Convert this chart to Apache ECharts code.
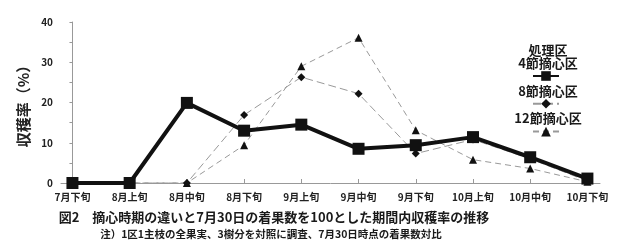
<!DOCTYPE html>
<html><head><meta charset="utf-8">
<script src="https://cdn.jsdelivr.net/npm/echarts@6/dist/echarts.min.js"></script>
<style>html,body{margin:0;padding:0;background:#fff}#c{width:626px;height:252px}</style>
</head><body><div id="c"></div>
<script>
const categories = ['7月下旬','8月上旬','8月中旬','8月下旬','9月上旬','9月中旬','9月下旬','10月上旬','10月中旬','10月下旬'];
const node4 = [0, 0, 19.9, 13.0, 14.5, 8.5, 9.4, 11.4, 6.4, 1.1];
const node8 = [0, 0, 0, 16.9, 26.3, 22.2, 7.3, 10.8, 6.0, 0.5];
const node12 = [0, 0, 0, 9.4, 29.0, 36.1, 13.1, 5.8, 3.6, 0.3];
const yTicks = [0, 10, 20, 30, 40];
const seriesNames = ['4節摘心区', '8節摘心区', '12節摘心区'];
const legendTitle = '処理区';
const yName = '収穫率（%）';
const titleText = '図2　摘心時期の違いと7月30日の着果数を100とした期間内収穫率の推移';
const noteText = '注）1区1主枝の全果実、3樹分を対照に調査、7月30日時点の着果数対比';

const FONT = '"Noto Sans CJK JP", "Noto Sans", sans-serif';
const idx = categories.map((_, i) => i);
const pairs = arr => arr.map((v, i) => [i, v]);
const txt = (x, y, text, size) => ({type: 'text', x: x, y: y,
  style: {text: text, align: 'center', verticalAlign: 'middle', font: 'bold ' + size + 'px ' + FONT, fill: '#1a1a1a'}});

const chart = echarts.init(document.getElementById('c'), null, {renderer: 'canvas'});
chart.setOption({
  animation: false,
  backgroundColor: '#fff',
  grid: {left: 61, right: 26, top: 22, bottom: 69, containLabel: false},
  xAxis: {
    type: 'value', min: -0.2, max: 9.22,
    axisLine: {show: true, lineStyle: {color: '#999', width: 1}},
    axisTick: {show: true, inside: true, length: 4, lineStyle: {color: '#999'}, customValues: idx},
    axisLabel: {customValues: idx, formatter: v => categories[Math.round(v)] || '',
      color: '#222', fontFamily: FONT, fontWeight: 'bold', fontSize: 10, margin: 9},
    splitLine: {show: false}
  },
  yAxis: {
    type: 'value', min: yTicks[0], max: yTicks[yTicks.length - 1], interval: 10,
    name: yName, nameLocation: 'middle', nameGap: 26, nameRotate: 90,
    nameTextStyle: {fontFamily: FONT, fontWeight: 'bold', fontSize: 15, color: '#222'},
    axisLine: {show: true, lineStyle: {color: '#999', width: 1}},
    axisTick: {show: true, length: 3, lineStyle: {color: '#999'}},
    minorTick: {show: true, splitNumber: 2, length: 3, lineStyle: {color: '#999'}},
    axisLabel: {color: '#222', fontFamily: FONT, fontWeight: 'bold', fontSize: 10, margin: 8},
    splitLine: {show: false}
  },
  legend: {
    orient: 'vertical', left: 527, top: 65, itemWidth: 26, itemHeight: 12, itemGap: 17,
    data: seriesNames, formatter: () => '', selectedMode: false,
    textStyle: {fontSize: 1}
  },
  graphic: [
    txt(548, 50, legendTitle, 13),
    txt(548, 63, seriesNames[0], 13),
    txt(548, 91, seriesNames[1], 13),
    txt(548, 118, seriesNames[2], 13),
    txt(274, 217, titleText, 13),
    txt(271, 234, noteText, 10.5)
  ],
  series: [
    {name: seriesNames[2], type: 'line', data: pairs(node12), z: 2,
      symbol: 'triangle', symbolSize: 8,
      lineStyle: {color: '#999', width: 1, type: [6, 4]},
      itemStyle: {color: '#111', borderWidth: 0}},
    {name: seriesNames[1], type: 'line', data: pairs(node8), z: 3,
      symbol: 'diamond', symbolSize: 8,
      lineStyle: {color: '#999', width: 1, type: [8, 4]},
      itemStyle: {color: '#111', borderWidth: 0}},
    {name: seriesNames[0], type: 'line', data: pairs(node4), z: 4,
      symbol: 'rect', symbolSize: 12,
      lineStyle: {color: '#111', width: 4},
      itemStyle: {color: '#111', borderWidth: 0}}
  ]
});
</script></body></html>
